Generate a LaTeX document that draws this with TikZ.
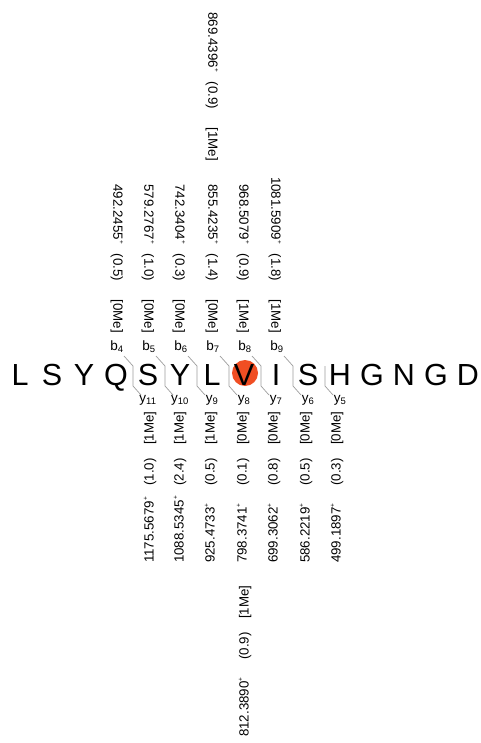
\documentclass[tikz,border=0pt]{standalone}
\usepackage{fontspec}
\setmainfont{Liberation Sans}
\definecolor{vred}{HTML}{F04E23}
\definecolor{mkgray}{HTML}{9C9C9C}
\newcommand\plussup{\raisebox{0.45em}{\fontsize{6.5}{7}\selectfont+}}
\newcommand\bcolumn[6]{%
  \node[colb, anchor=mid east] (#1n) at (#2, 244-#3) {#4\plussup};
  \node[colb, anchor=mid] (#1p) at (#2, 267.5-#3) {(#5)};
  \node[colb, anchor=mid east] (#1b) at (#2, 333-#3) {[#6]};
}
\newcommand\ycolumn[6]{%
  \node[coly, anchor=mid west] (#1n) at (#2, 563+#3) {#4\plussup};
  \node[coly, anchor=mid] (#1p) at (#2, 472+#3) {(#5)};
  \node[coly, anchor=mid west] (#1b) at (#2, 445+#3) {[#6]};
}
\begin{document}
\begin{tikzpicture}[x=1pt,y=-1pt,
  aa/.style={font=\fontsize{30.5}{32}\selectfont, anchor=base, inner sep=0},
  ion/.style={font=\fontsize{13.5}{14}\selectfont, anchor=base, inner sep=0},
  colb/.style={rotate=-90, inner sep=0, font=\fontsize{13.3}{14}\selectfont},
  coly/.style={rotate=90, inner sep=0, font=\fontsize{13.3}{14}\selectfont},
  mk/.style={draw=mkgray, line width=0.7pt},
  hl/.style={circle, fill=vred, minimum size=26pt, inner sep=0}]
\useasboundingbox (0,0) rectangle (480,743);
\fill[white] (0,0) rectangle (480,743);
% highlighted residue
\node[hl] (hlV) at (245,373) {};
% sequence
\foreach \L [count=\i from 0] in {L,S,Y,Q,S,Y,L,V,I,S,H,G,N,G,D}
  \node[aa] (a\i) at (20+32*\i, 385) {\L};
% fragment markers
\foreach \k in {0,...,6} {
  \coordinate (mt\k) at (133+32*\k, 366);
  \coordinate (mb\k) at (133+32*\k, 386);
  \coordinate (me\k) at (141+32*\k, 395);
  \draw[mk] (mt\k) -- (mb\k) -- (me\k);
}
\foreach \k in {0,...,5} {
  \coordinate (ms\k) at (124+32*\k, 356);
  \draw[mk] (ms\k) -- (mt\k);
}
% ion labels
\foreach \k/\n in {0/4,1/5,2/6,3/7,4/8,5/9}
  \node[ion] (b\n) at (117+32*\k, 350) {b\textsubscript{\n}};
\foreach \k/\n in {0/11,1/10,2/9,3/8,4/7,5/6,6/5}
  \node[ion] (y\n) at (148+32*\k, 402) {y\textsubscript{\n}};
% b columns
\bcolumn{cb4}{116}{0}{492.2455}{0.5}{0Me}
\bcolumn{cb5}{147}{0}{579.2767}{1.0}{0Me}
\bcolumn{cb6}{178}{0}{742.3404}{0.3}{0Me}
\bcolumn{cb7}{211}{0}{855.4235}{1.4}{0Me}
\bcolumn{cb7m}{211}{172}{869.4396}{0.9}{1Me}
\bcolumn{cb8}{242}{0}{968.5079}{0.9}{1Me}
\bcolumn{cb9}{274}{0}{1081.5909}{1.8}{1Me}
% y columns
\ycolumn{cy11}{151}{0}{1175.5679}{1.0}{1Me}
\ycolumn{cy10}{181}{0}{1088.5345}{2.4}{1Me}
\ycolumn{cy9}{212}{0}{925.4733}{0.5}{1Me}
\ycolumn{cy8}{244}{0}{798.3741}{0.1}{0Me}
\ycolumn{cy8m}{246}{174}{812.3890}{0.9}{1Me}
\ycolumn{cy7}{275}{0}{699.3062}{0.8}{0Me}
\ycolumn{cy6}{307}{0}{586.2219}{0.5}{0Me}
\ycolumn{cy5}{338}{0}{499.1897}{0.3}{0Me}
\end{tikzpicture}
\end{document}
